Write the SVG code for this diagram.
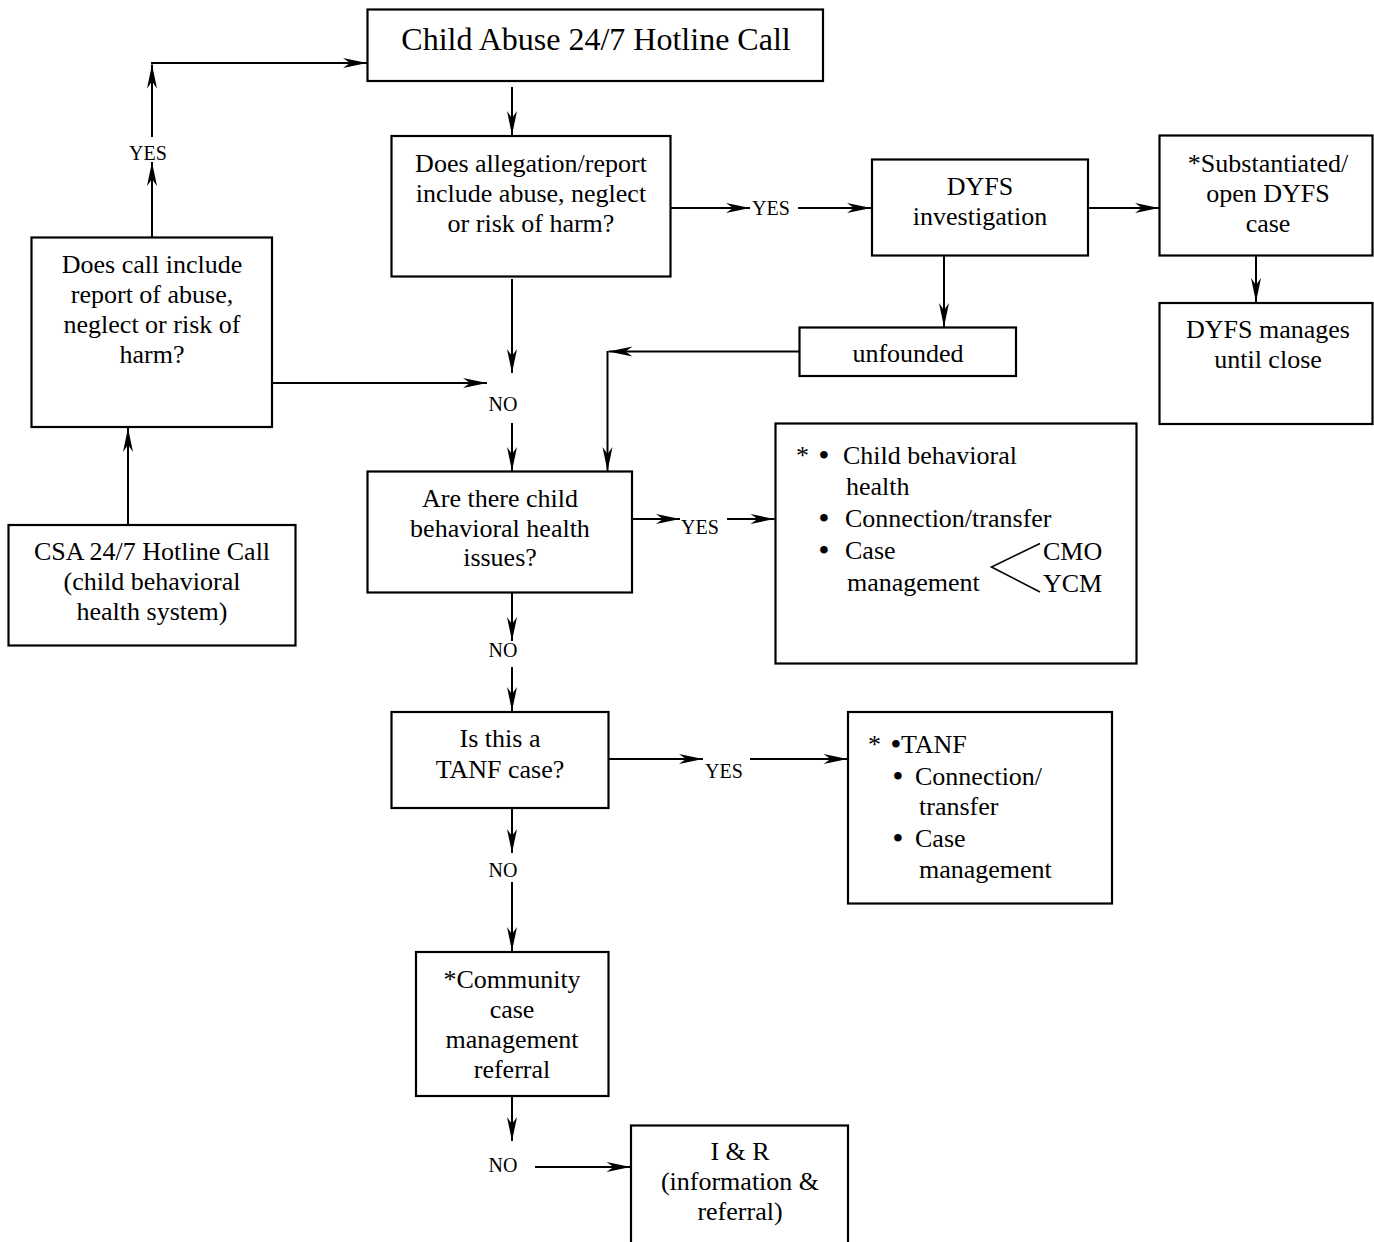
<svg xmlns="http://www.w3.org/2000/svg" width="1374" height="1242" viewBox="0 0 1374 1242">
<style>
rect.box{fill:#fff;stroke:#000;stroke-width:2.2}
text{font-family:"Liberation Serif","Times New Roman",serif;fill:#000}
.t{font-size:26px;text-anchor:middle}
.l{font-size:26px}
.title{font-size:32px;text-anchor:middle}
.lab{font-size:20px;text-anchor:middle}
.b{font-size:28px;font-weight:bold}
.conn path{fill:none;stroke:#000;stroke-width:2;marker-end:url(#ah)}
</style>
<defs>
<marker id="ah" viewBox="-25 -6 26 12" refX="0" refY="0" markerWidth="26" markerHeight="12" markerUnits="userSpaceOnUse" orient="auto">
<path d="M0,0 L-24,-5 L-17,0 L-24,5 Z" fill="#000"/>
</marker>
</defs>
<rect width="1374" height="1242" fill="#fff"/>

<g id="hotline">
<rect class="box" x="367.5" y="9.5" width="455.5" height="71.5"/>
<text class="title" x="596" y="50">Child Abuse 24/7 Hotline Call</text>
</g>

<g id="q-allegation">
<rect class="box" x="391.5" y="136" width="279" height="140.5"/>
<text class="t" x="531" y="172">Does allegation/report</text>
<text class="t" x="531" y="202">include abuse, neglect</text>
<text class="t" x="531" y="232">or risk of harm?</text>
</g>

<g id="q-call">
<rect class="box" x="31.5" y="237.5" width="240.5" height="189.5"/>
<text class="t" x="152" y="273">Does call include</text>
<text class="t" x="152" y="303">report of abuse,</text>
<text class="t" x="152" y="333">neglect or risk of</text>
<text class="t" x="152" y="363">harm?</text>
</g>

<g id="csa">
<rect class="box" x="8.5" y="525" width="287" height="120.5"/>
<text class="t" x="152" y="560">CSA 24/7 Hotline Call</text>
<text class="t" x="152" y="590">(child behavioral</text>
<text class="t" x="152" y="620">health system)</text>
</g>

<g id="dyfs-inv">
<rect class="box" x="872" y="159.5" width="216" height="96"/>
<text class="t" x="980" y="195">DYFS</text>
<text class="t" x="980" y="225">investigation</text>
</g>

<g id="substantiated">
<rect class="box" x="1159.5" y="135.5" width="213" height="120"/>
<text class="t" x="1268" y="171.5">*Substantiated/</text>
<text class="t" x="1268" y="201.5">open DYFS</text>
<text class="t" x="1268" y="231.5">case</text>
</g>

<g id="dyfs-manages">
<rect class="box" x="1159.5" y="303" width="213" height="121"/>
<text class="t" x="1268" y="338">DYFS manages</text>
<text class="t" x="1268" y="368">until close</text>
</g>

<g id="unfounded">
<rect class="box" x="799.5" y="327.5" width="216.5" height="48.5"/>
<text class="t" x="908" y="362">unfounded</text>
</g>

<g id="q-behavioral">
<rect class="box" x="367.5" y="471.5" width="264.5" height="121"/>
<text class="t" x="500" y="506.5">Are there child</text>
<text class="t" x="500" y="536.5">behavioral health</text>
<text class="t" x="500" y="566">issues?</text>
</g>

<g id="behavioral-services">
<rect class="box" x="775.5" y="423.5" width="361" height="240"/>
<text class="l" x="796" y="464">*<tspan class="b" x="819">•</tspan><tspan x="843">Child behavioral</tspan></text>
<text class="l" x="846" y="495">health</text>
<text class="l" x="819" y="527"><tspan class="b">•</tspan><tspan x="845">Connection/transfer</tspan></text>
<text class="l" x="819" y="559"><tspan class="b">•</tspan><tspan x="845">Case</tspan></text>
<text class="l" x="847" y="591">management</text>
<path d="M1040,543.5 L991.5,567 L1040,592" fill="none" stroke="#000" stroke-width="1.6"/>
<text class="l" x="1043" y="560">CMO</text>
<text class="l" x="1043" y="592">YCM</text>
</g>

<g id="q-tanf">
<rect class="box" x="391.5" y="712" width="217" height="96"/>
<text class="t" x="500" y="746.5">Is this a</text>
<text class="t" x="500" y="778">TANF case?</text>
</g>

<g id="tanf-services">
<rect class="box" x="848" y="712" width="264" height="191.5"/>
<text class="l" x="868" y="753">*<tspan class="b" x="891">•</tspan><tspan x="901">TANF</tspan></text>
<text class="l" x="893" y="784.5"><tspan class="b">•</tspan><tspan x="915">Connection/</tspan></text>
<text class="l" x="919" y="815">transfer</text>
<text class="l" x="893" y="847"><tspan class="b">•</tspan><tspan x="915">Case</tspan></text>
<text class="l" x="919" y="878">management</text>
</g>

<g id="community">
<rect class="box" x="416" y="952" width="192.5" height="144"/>
<text class="t" x="512" y="988">*Community</text>
<text class="t" x="512" y="1017.5">case</text>
<text class="t" x="512" y="1047.5">management</text>
<text class="t" x="512" y="1078">referral</text>
</g>

<g id="info-referral">
<rect class="box" x="631" y="1125.5" width="217" height="140"/>
<text class="t" x="740" y="1160">I &amp; R</text>
<text class="t" x="740" y="1190">(information &amp;</text>
<text class="t" x="740" y="1220">referral)</text>
</g>

<g id="labels">
<text class="lab" x="148" y="160">YES</text>
<text class="lab" x="503" y="411">NO</text>
<text class="lab" x="771" y="215">YES</text>
<text class="lab" x="700" y="533.5">YES</text>
<text class="lab" x="503" y="657">NO</text>
<text class="lab" x="724" y="778">YES</text>
<text class="lab" x="503" y="877">NO</text>
<text class="lab" x="503" y="1172">NO</text>
</g>

<g id="connectors" class="conn">
<path d="M128,525 L128,428"/>
<path d="M152,237 L152,162"/>
<path d="M152,137 L152,64.5"/>
<path d="M151,63 L367,63"/>
<path d="M272,383 L487,383"/>
<path d="M512,87 L512,135"/>
<path d="M512,279 L512,373"/>
<path d="M512,423 L512,471"/>
<path d="M671,208 L750,208"/>
<path d="M798,208 L871,208"/>
<path d="M1088,208 L1159,208"/>
<path d="M1256,256 L1256,302"/>
<path d="M944,256 L944,327"/>
<path d="M799,351.5 L608.5,351.5"/>
<path d="M607.5,351 L607.5,471"/>
<path d="M632,519 L680,519"/>
<path d="M727,519 L774.5,519"/>
<path d="M512,593 L512,641"/>
<path d="M512,667 L512,711"/>
<path d="M609,759 L703,759"/>
<path d="M750,759 L847.5,759"/>
<path d="M512,808 L512,853"/>
<path d="M512,882 L512,951"/>
<path d="M512,1096 L512,1141"/>
<path d="M535,1167 L630.5,1167"/>
</g>
</svg>
